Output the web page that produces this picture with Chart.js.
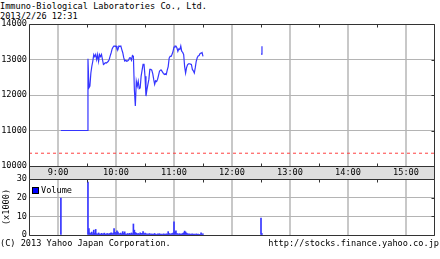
<!doctype html>
<html>

<head>
    <title>Immuno-Biological Laboratories</title>
    <script src="https://cdn.jsdelivr.net/npm/chart.js"></script>
    <style>
        body { margin: 0; width: 440px; height: 259px; background: #fff; position: relative; overflow: hidden;
               font-family: "DejaVu Sans Mono", monospace; font-size: 8.6px; color: #000; }
        .txt { position: absolute; white-space: pre; line-height: 10px; }
        canvas { position: absolute; left: 0; top: 0; }
        .box { display: inline-block; width: 5px; height: 5px; background: #0000ff; border: 1px solid #000;
               margin-right: 2px; vertical-align: -1px; }
    </style>
</head>

<body>

    <div class="txt" style="left:0;top:1px">Immuno-Biological Laboratories Co., Ltd.</div>
    <div class="txt" style="left:0;top:11px">2013/2/26 12:31</div>
    <canvas id="volume" width="440" height="259"></canvas>
    <canvas id="price" width="440" height="259"></canvas>
    <div class="txt" style="left:32px;top:185px"><span class="box"></span>Volume</div>
    <div class="txt" style="left:0;top:238px">(C) 2013 Yahoo Japan Corporation.</div>
    <div class="txt" style="right:1px;top:238px">http://stocks.finance.yahoo.co.jp</div>

    <script>
        var hourLabels = ['9:00', '10:00', '11:00', '12:00', '13:00', '14:00', '15:00'];
        var axisStart = '8:30';
        var axisEnd = '15:30';
        var prevClose = 10360;

        // 1-minute prices, null at 12:00 = lunch break gap
        var priceTimes = [
            '9:03', '9:30', '9:31', '9:32', '9:33', '9:34', '9:35', '9:36', '9:37', '9:38',
            '9:39', '9:40', '9:41', '9:42', '9:43', '9:44', '9:45', '9:46', '9:47', '9:48',
            '9:49', '9:50', '9:51', '9:52', '9:53', '9:54', '9:55', '9:56', '9:57', '9:58',
            '9:59', '10:00', '10:01', '10:02', '10:03', '10:04', '10:05', '10:06', '10:07', '10:08',
            '10:09', '10:10', '10:11', '10:12', '10:13', '10:14', '10:15', '10:16', '10:17', '10:18',
            '10:19', '10:20', '10:21', '10:22', '10:23', '10:24', '10:25', '10:26', '10:27', '10:28',
            '10:29', '10:30', '10:31', '10:32', '10:33', '10:34', '10:35', '10:36', '10:37', '10:38',
            '10:39', '10:40', '10:41', '10:42', '10:43', '10:44', '10:45', '10:46', '10:47', '10:48',
            '10:49', '10:50', '10:51', '10:52', '10:53', '10:54', '10:55', '10:56', '10:57', '10:58',
            '10:59', '11:00', '11:01', '11:02', '11:03', '11:04', '11:05', '11:06', '11:07', '11:08',
            '11:09', '11:10', '11:11', '11:12', '11:13', '11:14', '11:15', '11:16', '11:17', '11:18',
            '11:19', '11:20', '11:21', '11:22', '11:23', '11:24', '11:25', '11:26', '11:27', '11:28',
            '11:29', '11:30', '12:00', '12:30', '12:31'
        ];
        var prices = [
            11000, 11000, 13020, 12200, 12250, 12620, 12810, 12950, 13140, 13080,
            13140, 13000, 13140, 12950, 13140, 13080, 13140, 13000, 12860, 12880,
            12910, 12900, 12920, 12950, 13000, 13100, 13190, 13300, 13350, 13380,
            13370, 13380, 13300, 13280, 13380, 13370, 13380, 13280, 13190, 13050,
            12960, 12980, 12950, 12960, 12980, 13050, 13050, 12980, 13110, 13090,
            12150, 11690, 12390, 12250, 12390, 12180, 12200, 12530, 12700, 12860,
            12860, 12530, 11970, 12150, 12300, 12440, 12720, 12720, 12700, 12600,
            12440, 12300, 12400, 12380, 12440, 12550, 12670, 12700, 12700, 12650,
            12610, 12580, 12600, 12580, 12700, 12800, 13040, 13090, 13090, 13150,
            13230, 13350, 13380, 13380, 13330, 13230, 13300, 13280, 13380, 13230,
            13200, 13140, 12800, 12620, 12770, 12850, 12880, 12880, 12870, 12860,
            12720, 12680, 12620, 12770, 12950, 13050, 13100, 13110, 13170, 13180,
            13200, 13090, null, 13150, 13370
        ];

        // volume in thousands of shares
        var volTimes = [
            '9:03', '9:31', '9:32', '9:33', '9:34', '9:35', '9:36', '9:37', '9:38', '9:39', '9:40',
            '9:41', '9:42', '9:43', '9:44', '9:45', '9:46', '9:47', '9:48', '9:49', '9:50',
            '9:51', '9:52', '9:53', '9:54', '9:55', '9:56', '9:57', '9:58', '9:59', '10:00',
            '10:01', '10:02', '10:03', '10:04', '10:05', '10:06', '10:07', '10:08', '10:09', '10:10',
            '10:11', '10:12', '10:13', '10:14', '10:15', '10:16', '10:17', '10:18', '10:19', '10:20',
            '10:21', '10:22', '10:23', '10:24', '10:25', '10:26', '10:27', '10:28', '10:29', '10:30',
            '10:31', '10:32', '10:33', '10:34', '10:35', '10:36', '10:37', '10:38', '10:39', '10:40',
            '10:41', '10:42', '10:43', '10:44', '10:45', '10:46', '10:47', '10:48', '10:49', '10:50',
            '10:51', '10:52', '10:53', '10:54', '10:55', '10:56', '10:57', '10:58', '10:59', '11:00',
            '11:01', '11:02', '11:03', '11:04', '11:05', '11:06', '11:07', '11:08', '11:09', '11:10',
            '11:11', '11:12', '11:13', '11:14', '11:15', '11:16', '11:17', '11:18', '11:19', '11:20',
            '11:21', '11:22', '11:23', '11:24', '11:25', '11:26', '11:27', '11:28', '11:29', '11:30',
            '12:30', '12:31'
        ];
        var volumes = [
            19.8, 28.4, 3.5, 1.2, 0.8, 1.5, 0.6, 2.6, 1.0, 3.0, 0.7,
            0.5, 1.1, 0.6, 0.4, 0.9, 0.5, 0.7, 1.0, 0.4, 0.6,
            0.8, 0.5, 0.7, 0.9, 1.2, 0.6, 1.0, 3.5, 1.4, 0.8,
            2.3, 1.5, 0.7, 0.6, 1.0, 0.5, 1.8, 0.9, 1.7, 0.6,
            0.4, 0.8, 0.5, 0.9, 0.6, 1.1, 0.7, 5.9, 2.6, 1.3,
            1.0, 0.6, 0.8, 0.5, 1.2, 0.7, 0.9, 1.8, 0.6, 1.0,
            0.8, 0.4, 0.6, 0.5, 0.7, 0.3, 0.6, 0.4, 0.5, 0.8,
            0.4, 0.3, 0.6, 0.5, 0.7, 0.4, 0.5, 0.3, 0.6, 0.5,
            0.4, 0.6, 0.5, 1.8, 0.7, 0.5, 0.6, 0.8, 1.0, 7.1,
            1.5, 2.2, 0.8, 0.6, 0.5, 0.7, 0.4, 0.6, 0.8, 1.2,
            2.1, 1.6, 1.0, 0.7, 0.5, 0.6, 0.4, 0.5, 0.6, 0.4,
            0.5, 0.3, 0.6, 0.4, 0.5, 0.3, 0.4, 1.2, 0.5, 0.6,
            9.1, 0.8
        ];

        function toMin(s) {
            var p = s.split(':');
            return parseInt(p[0]) * 60 + parseInt(p[1]);
        }
        function fmt(v) {
            return Math.floor(v / 60) + ':' + String(v % 60).padStart(2, '0');
        }

        var font = { family: 'DejaVu Sans Mono', size: 8.6 };
        var frameColor = '#333';
        var bandHeight = 13;

        function hourTicks(axis) {
            axis.ticks = hourLabels.map(l => ({ value: toMin(l) }));
        }

        function line(ctx, x1, y1, x2, y2) {
            ctx.beginPath();
            ctx.moveTo(x1, y1);
            ctx.lineTo(x2, y2);
            ctx.stroke();
        }

        var priceFrame = {
            id: 'priceFrame',
            beforeDraw(chart) {
                var a = chart.chartArea, ctx = chart.ctx;
                ctx.save();
                ctx.fillStyle = '#dedede';
                ctx.fillRect(a.left, a.bottom, a.right - a.left, bandHeight);
                ctx.restore();
            },
            afterDraw(chart) {
                var a = chart.chartArea, ctx = chart.ctx;
                var l = Math.round(a.left) + 0.5, r = Math.round(a.right) - 0.5;
                var t = Math.round(a.top) + 0.5, b = Math.round(a.bottom) + 0.5;
                ctx.save();
                ctx.strokeStyle = frameColor;
                ctx.lineWidth = 1;
                line(ctx, l, t, r, t);
                line(ctx, l, t, l, b + bandHeight);
                line(ctx, r, t, r, b + bandHeight);
                line(ctx, l, b, r, b);
                line(ctx, l, b + bandHeight, r, b + bandHeight);
                var xs = chart.scales.x, ys = chart.scales.y;
                for (var v = toMin(hourLabels[0]) + 30; v < toMin(axisEnd); v += 60) {
                    var x = Math.round(xs.getPixelForValue(v)) + 0.5;
                    line(ctx, x, t, x, t + 3);
                    line(ctx, x, b, x, b - 3);
                }
                ys.ticks.forEach(tk => {
                    var y = Math.round(ys.getPixelForValue(tk.value)) + 0.5;
                    line(ctx, r, y, r - 3, y);
                });
                ctx.restore();
            }
        };

        var volumeFrame = {
            id: 'volumeFrame',
            afterDraw(chart) {
                var a = chart.chartArea, ctx = chart.ctx;
                var l = Math.round(a.left) + 0.5, r = Math.round(a.right) - 0.5;
                var t = Math.round(a.top) + 0.5, b = Math.round(a.bottom) + 0.5;
                ctx.save();
                ctx.strokeStyle = frameColor;
                ctx.lineWidth = 1;
                line(ctx, l, t, l, b);
                line(ctx, r, t, r, b);
                line(ctx, l, b, r, b);
                var xs = chart.scales.x, ys = chart.scales.y;
                for (var v = toMin(hourLabels[0]) + 30; v < toMin(axisEnd); v += 60) {
                    var x = Math.round(xs.getPixelForValue(v)) + 0.5;
                    line(ctx, x, t, x, t + 3);
                }
                ys.ticks.forEach(tk => {
                    var y = Math.round(ys.getPixelForValue(tk.value)) + 0.5;
                    line(ctx, r, y, r - 3, y);
                });
                ctx.restore();
            }
        };

        var priceChart = new Chart(document.getElementById('price').getContext('2d'), {
            type: 'line',
            data: {
                datasets: [{
                    data: priceTimes.map((t, i) => ({ x: toMin(t), y: prices[i] })),
                    borderColor: '#3535ff',
                    borderWidth: 1.2,
                    pointRadius: 0,
                    spanGaps: false
                }, {
                    data: [{ x: toMin(axisStart), y: prevClose }, { x: toMin(axisEnd), y: prevClose }],
                    borderColor: '#ff4040',
                    borderWidth: 1,
                    borderDash: [3, 3],
                    pointRadius: 0
                }]
            },
            options: {
                responsive: false,
                animation: false,
                devicePixelRatio: 1,
                layout: { padding: { left: 0, right: 5, top: 24, bottom: 80 } },
                plugins: { legend: { display: false }, tooltip: { enabled: false } },
                scales: {
                    x: {
                        type: 'linear',
                        min: toMin(axisStart),
                        max: toMin(axisEnd),
                        afterBuildTicks: hourTicks,
                        afterFit: axis => { axis.height = bandHeight; },
                        ticks: { callback: v => fmt(v), font: font, color: '#000', padding: 2, autoSkip: false, maxRotation: 0 },
                        grid: { color: '#c8c8c8', lineWidth: 2, drawTicks: false },
                        border: { display: false }
                    },
                    y: {
                        min: 10000,
                        max: 14000,
                        afterFit: axis => { axis.width = 29; },
                        ticks: { stepSize: 1000, callback: v => String(v), font: font, color: '#000', padding: 2 },
                        grid: { color: '#b4b4b4', drawTicks: false },
                        border: { display: false }
                    }
                }
            },
            plugins: [priceFrame]
        });

        var volumeChart = new Chart(document.getElementById('volume').getContext('2d'), {
            type: 'bar',
            data: {
                datasets: [{
                    data: volTimes.map((t, i) => ({ x: toMin(t), y: volumes[i] })),
                    backgroundColor: '#3535ff',
                    borderWidth: 0,
                    barThickness: 1
                }]
            },
            options: {
                responsive: false,
                animation: false,
                devicePixelRatio: 1,
                layout: { padding: { left: 0, right: 5, top: 179, bottom: 24 } },
                plugins: { legend: { display: false }, tooltip: { enabled: false } },
                scales: {
                    x: {
                        type: 'linear',
                        offset: false,
                        min: toMin(axisStart),
                        max: toMin(axisEnd),
                        afterBuildTicks: hourTicks,
                        afterFit: axis => { axis.height = 0; },
                        ticks: { display: false },
                        grid: { color: '#c8c8c8', lineWidth: 2, drawTicks: false, offset: false },
                        border: { display: false }
                    },
                    y: {
                        min: 0,
                        max: 30,
                        afterFit: axis => { axis.width = 29; },
                        ticks: { stepSize: 10, callback: v => String(v), font: font, color: '#000', padding: 2 },
                        title: { display: true, text: '(x1000)', font: font, color: '#000', padding: { top: 2, bottom: 0 } },
                        grid: { color: '#b4b4b4', drawTicks: false },
                        border: { display: false }
                    }
                }
            },
            plugins: [volumeFrame]
        });
    </script>
</body>

</html>
